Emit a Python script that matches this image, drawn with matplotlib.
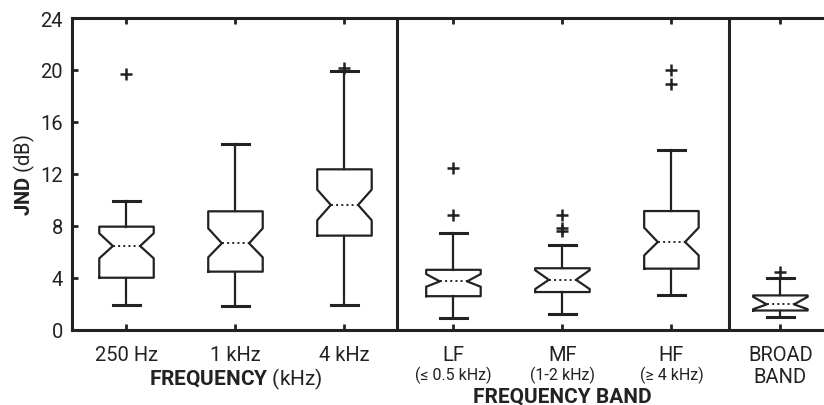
import matplotlib
matplotlib.use("Agg")
import matplotlib.pyplot as plt

plt.rcParams['font.family'] = ['Roboto', 'DejaVu Sans']
plt.rcParams['mathtext.fontset'] = 'custom'
plt.rcParams['mathtext.rm'] = 'Roboto'
plt.rcParams['mathtext.bf'] = 'Roboto:bold'

# ---- data ----
labels = ["250 Hz", "1 kHz", "4 kHz", "LF", "MF", "HF", "BROAD\nBAND"]
sublabels = ["", "", "", "(≤ 0.5 kHz)", "(1-2 kHz)", "(≥ 4 kHz)", ""]
whislo = [1.92, 1.87, 1.92, 0.90, 1.23, 2.69, 1.00]
q1     = [4.02, 4.49, 7.26, 2.60, 2.92, 4.72, 1.50]
med    = [6.46, 6.67, 9.62, 3.74, 3.86, 6.77, 1.97]
q3     = [7.95, 9.13, 12.36, 4.63, 4.75, 9.15, 2.66]
whishi = [9.92, 14.30, 19.92, 7.44, 6.51, 13.82, 4.00]
cilo   = [5.51, 5.59, 8.44, 3.33, 3.15, 5.74, 1.60]
cihi   = [7.44, 7.82, 10.80, 4.30, 4.60, 7.87, 2.55]
fliers = [[19.7], [], [20.15], [8.82, 12.46], [7.65, 7.85, 8.82], [18.9, 20.0], [4.5]]
yticks = [0, 4, 8, 12, 16, 20, 24]

col = '#222222'
PX = 0.72  # points per pixel at 100 dpi
stats = []
for i in range(len(labels)):
    stats.append(dict(whislo=whislo[i], q1=q1[i], med=med[i], q3=q3[i],
                      whishi=whishi[i], cilo=cilo[i], cihi=cihi[i],
                      fliers=fliers[i]))

fig = plt.figure(figsize=(8.24, 4.06), dpi=100)
ax = fig.add_axes([72/824, 1-331/406, 1-72/824, (331-19)/406])
positions = list(range(1, len(labels)+1))
ax.bxp(stats, positions=positions, widths=0.5, shownotches=True,
       boxprops=dict(color=col, linewidth=1.6),
       whiskerprops=dict(color=col, linewidth=1.6, linestyle='-'),
       capprops=dict(color=col, linewidth=2.2),
       medianprops=dict(color=col, linewidth=1.4, linestyle=':'),
       flierprops=dict(marker='+', markersize=8, markeredgewidth=1.8,
                       markeredgecolor=col, linestyle='none'))

ax.set_xlim(0.5, 7.4)
ax.set_ylim(0, 24)
ax.set_yticks(yticks)
ax.set_xticks(positions)
ax.set_xticklabels(labels, linespacing=1.2)
for sp in ['left', 'top', 'bottom']:
    ax.spines[sp].set_linewidth(2.2)
    ax.spines[sp].set_color(col)
ax.spines['right'].set_visible(False)
ax.tick_params(axis='both', direction='in', length=4, width=2, color=col,
               labelsize=14.5, labelcolor='#222222')
ax.tick_params(axis='x', top=True, pad=10.5)
ax.tick_params(axis='y', pad=6.5)

for x in (3.48, 6.53):
    ax.axvline(x, color=col, linewidth=2.2)

tr = ax.get_xaxis_transform()
for i, s in enumerate(sublabels):
    if s:
        ax.annotate(s, xy=(positions[i], 0), xycoords=tr,
                    xytext=(0, -49*PX), textcoords='offset points',
                    ha='center', va='baseline', fontsize=11.5, color='#222222')

ax.annotate(r"$\mathbf{FREQUENCY}$ (kHz)", xy=(2, 0), xycoords=tr,
            xytext=(0, -54*PX), textcoords='offset points',
            ha='center', va='baseline', fontsize=15, color='#222222')
ax.annotate("FREQUENCY BAND", xy=(5, 0), xycoords=tr,
            xytext=(0, -72*PX), textcoords='offset points',
            ha='center', va='baseline', fontsize=15, fontweight='bold',
            color='#222222')

ax.text(-0.063, 0.5, r"$\mathbf{JND}$ (dB)", transform=ax.transAxes,
        rotation=90, ha='center', va='center', fontsize=14.5, color='#222222')

fig.savefig("out.png", dpi=100)
